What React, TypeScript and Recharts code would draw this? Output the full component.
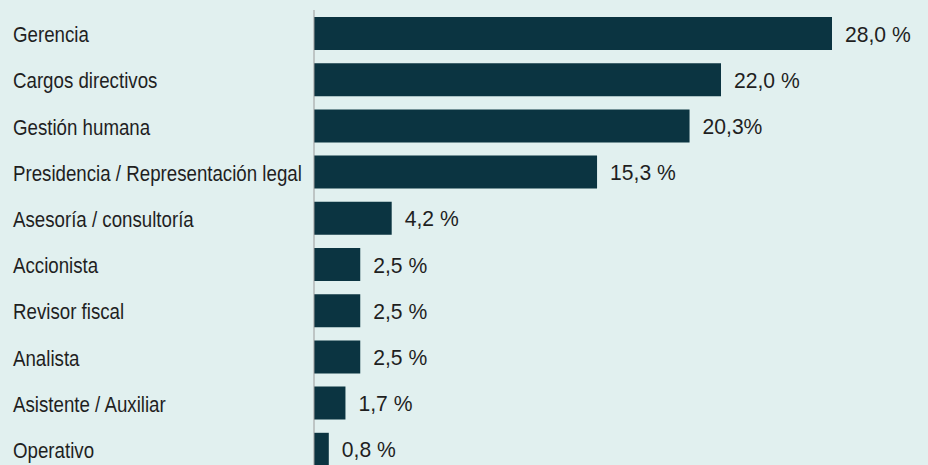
import { BarChart, Bar, XAxis, YAxis, LabelList } from "recharts";

const categories = [
  "Gerencia",
  "Cargos directivos",
  "Gestión humana",
  "Presidencia / Representación legal",
  "Asesoría / consultoría",
  "Accionista",
  "Revisor fiscal",
  "Analista",
  "Asistente / Auxiliar",
  "Operativo",
];
const values = [28.0, 22.0, 20.3, 15.3, 4.2, 2.5, 2.5, 2.5, 1.7, 0.8];
const valueLabels = ["28,0 %", "22,0 %", "20,3%", "15,3 %", "4,2 %", "2,5 %", "2,5 %", "2,5 %", "1,7 %", "0,8 %"];

const data = categories.map((name, i) => ({ name, value: values[i], label: valueLabels[i] }));

const FONT = "'Liberation Sans', Arial, sans-serif";
const BG = "#e1f0ef";
const BAR = "#0b3441";
const TEXT = "#1f1f1f";
// the original type is a narrow face, so squeeze a regular one
const SQUEEZE = 0.85;

// category labels sit flush left at x=13
const CategoryTick = (props: any) => {
  const { y, payload } = props;
  return (
    <text
      transform={`translate(13, ${y + 9}) scale(${SQUEEZE}, 1)`}
      textAnchor="start"
      fontFamily={FONT}
      fontSize={22}
      fill={TEXT}
    >
      {payload.value}
    </text>
  );
};

const ValueLabel = (props: any) => {
  const { x, y, width, height, index } = props;
  return (
    <text
      transform={`translate(${x + width + 13}, ${y + height / 2 + 8}) scale(0.96, 1)`}
      textAnchor="start"
      fontFamily={FONT}
      fontSize={22}
      fill={TEXT}
    >
      {valueLabels[index]}
    </text>
  );
};

export default function App() {
  return (
    <div
      style={{
        position: "absolute",
        left: 0,
        top: 0,
        width: 928,
        height: 465,
        overflow: "hidden",
        background: BG,
      }}
    >
      <BarChart
        width={928}
        height={472}
        data={data}
        layout="vertical"
        margin={{ top: 10, right: 22, bottom: 0, left: 0 }}
      >
        <XAxis type="number" domain={[0, 32]} hide />
        <YAxis
          type="category"
          dataKey="name"
          width={314}
          tickLine={false}
          axisLine={{ stroke: "#9a9a9a", strokeWidth: 1 }}
          tick={<CategoryTick />}
          interval={0}
        />
        <Bar dataKey="value" fill={BAR} barSize={33} isAnimationActive={false}>
          <LabelList dataKey="label" content={<ValueLabel />} />
        </Bar>
      </BarChart>
    </div>
  );
}
